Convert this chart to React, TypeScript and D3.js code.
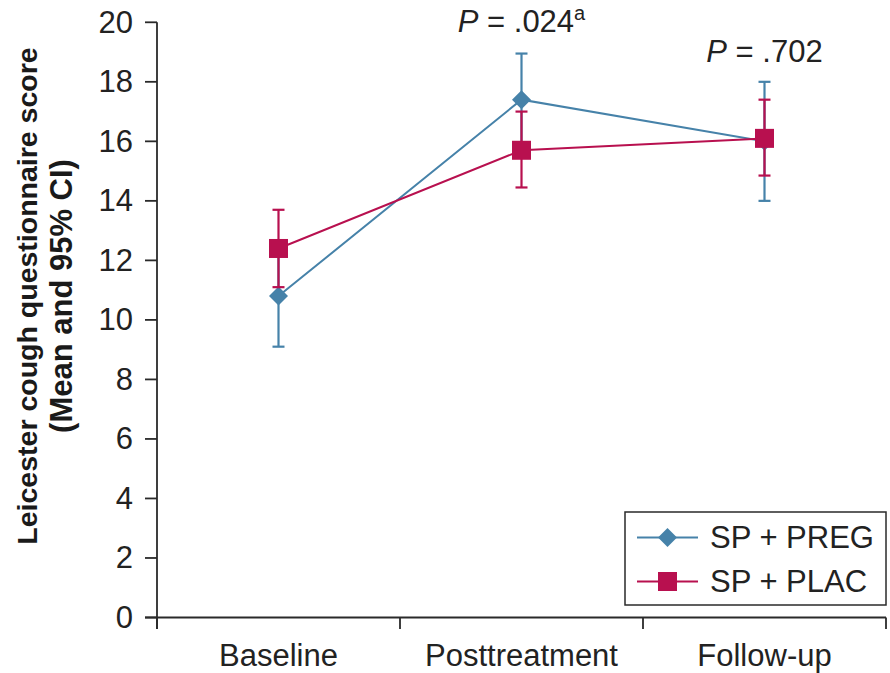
import React from "react";
import * as d3 from "d3";

const categories = ["Baseline", "Posttreatment", "Follow-up"];
const pregMean = [10.8, 17.4, 16.0];
const pregLow = [9.1, 15.9, 14.0];
const pregHigh = [12.5, 18.95, 18.0];
const placMean = [12.4, 15.7, 16.1];
const placLow = [11.1, 14.45, 14.85];
const placHigh = [13.7, 17.0, 17.4];
const yTicks = [0, 2, 4, 6, 8, 10, 12, 14, 16, 18, 20];
const pCategories = ["Posttreatment", "Follow-up"];
const pValues = [".024", ".702"];
const pSups = ["a", ""];
const pLevels = [20.3, 19.3];
const seriesNames = ["SP + PREG", "SP + PLAC"];

const BLUE = "#4682a9";
const RED = "#b8104f";
const AXIS = "#2a2a2a";
const FONT = "'Liberation Sans', Arial, Helvetica, sans-serif";

export default function App() {
  const W = 890;
  const H = 673;
  const x = d3.scaleBand<string>().domain(categories).range([157, 886]).padding(0);
  const y = d3.scaleLinear().domain([0, 20]).range([617.5, 22.3]);
  const cx = (c: string) => (x(c) as number) + x.bandwidth() / 2;
  const line = d3
    .line<[number, number]>()
    .x((d) => d[0])
    .y((d) => d[1]);

  const series = [
    { name: seriesNames[0], mean: pregMean, low: pregLow, high: pregHigh, color: BLUE, shape: "diamond" },
    { name: seriesNames[1], mean: placMean, low: placLow, high: placHigh, color: RED, shape: "square" },
  ];

  const marker = (shape: string, px: number, py: number, color: string, key?: string) =>
    shape === "diamond" ? (
      <path
        key={key}
        d={`M${px},${py - 9.5} L${px + 9.5},${py} L${px},${py + 9.5} L${px - 9.5},${py} Z`}
        fill={color}
      />
    ) : (
      <rect key={key} x={px - 9.5} y={py - 9.5} width={19} height={19} fill={color} />
    );

  const boundaries = [...categories.map((c) => x(c) as number), 886];

  return (
    <svg
      width={W}
      height={H}
      style={{ position: "absolute", left: 0, top: 0, background: "#fff" }}
      fontFamily={FONT}
    >
      {/* Y axis */}
      <line x1={157} x2={157} y1={y(20)} y2={629} stroke={AXIS} strokeWidth={1.8} />
      {yTicks.map((t) => (
        <g key={t}>
          <line x1={145} x2={157} y1={y(t)} y2={y(t)} stroke={AXIS} strokeWidth={1.8} />
          <text
            x={133}
            y={y(t)}
            textAnchor="end"
            dominantBaseline="central"
            fontSize={31}
            fill="#222"
          >
            {t}
          </text>
        </g>
      ))}
      {/* X axis */}
      <line x1={145} x2={886} y1={y(0)} y2={y(0)} stroke={AXIS} strokeWidth={1.8} />
      {boundaries.map((b, i) => (
        <line key={i} x1={b} x2={b} y1={y(0)} y2={629} stroke={AXIS} strokeWidth={1.8} />
      ))}
      {categories.map((c) => (
        <text key={c} x={cx(c)} y={666} textAnchor="middle" fontSize={31} fill="#222">
          {c}
        </text>
      ))}
      {/* Y title */}
      <g transform={`translate(0,296) rotate(-90)`}>
        <text x={0} y={37} textAnchor="middle" fontSize={28.5} fontWeight="bold" fill="#1a1a1a">
          Leicester cough questionnaire score
        </text>
        <text x={0} y={72} textAnchor="middle" fontSize={31} fontWeight="bold" fill="#1a1a1a">
          (Mean and 95% CI)
        </text>
      </g>
      {/* P values */}
      {pCategories.map((c, i) => (
        <text key={c} x={cx(c)} y={y(pLevels[i]) + 19} fontSize={31} fill="#222" textAnchor="middle">
          <tspan fontStyle="italic">P</tspan>
          <tspan>{` = ${pValues[i]}`}</tspan>
          {pSups[i] ? (
            <tspan fontSize={20} dy={-12}>
              {pSups[i]}
            </tspan>
          ) : null}
        </text>
      ))}
      {/* Series */}
      {series.map((s) => (
        <g key={s.name}>
          <path
            d={line(categories.map((c, i) => [cx(c), y(s.mean[i])]) as [number, number][]) || ""}
            fill="none"
            stroke={s.color}
            strokeWidth={2}
          />
          {categories.map((c, i) => (
            <g key={c}>
              <line x1={cx(c)} x2={cx(c)} y1={y(s.low[i])} y2={y(s.high[i])} stroke={s.color} strokeWidth={2.2} />
              <line x1={cx(c) - 6} x2={cx(c) + 6} y1={y(s.low[i])} y2={y(s.low[i])} stroke={s.color} strokeWidth={2.2} />
              <line x1={cx(c) - 6} x2={cx(c) + 6} y1={y(s.high[i])} y2={y(s.high[i])} stroke={s.color} strokeWidth={2.2} />
              {marker(s.shape, cx(c), y(s.mean[i]), s.color)}
            </g>
          ))}
        </g>
      ))}
      {/* Legend */}
      <rect x={625} y={512} width={261} height={93} fill="#fff" stroke={AXIS} strokeWidth={1.5} />
      {series.map((s, i) => {
        const ly = 537.5 + i * 44;
        return (
          <g key={s.name}>
            <line x1={637} x2={698} y1={ly} y2={ly} stroke={s.color} strokeWidth={2} />
            {marker(s.shape, 667.5, ly, s.color)}
            <text x={710} y={ly} dominantBaseline="central" fontSize={31} fill="#222">
              {s.name}
            </text>
          </g>
        );
      })}
    </svg>
  );
}
